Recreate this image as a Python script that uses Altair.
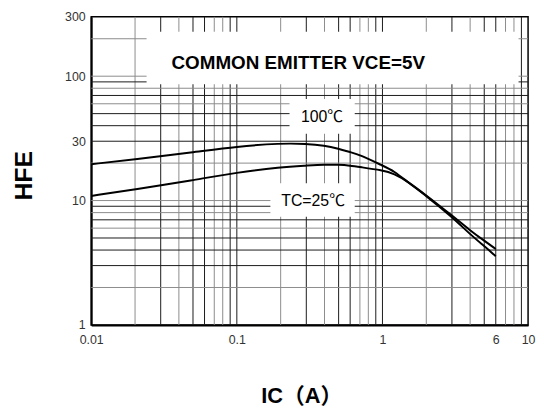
import math
import altair as alt
import pandas as pd

# ---- data ----
IC_100 = [0.01, 0.02, 0.05, 0.1, 0.2, 0.3, 0.4, 0.5, 0.6, 0.7, 1.0, 1.2, 1.5, 2, 3, 4, 5, 6]
HFE_100 = [19.6, 21.5, 24.4, 27.2, 28.9, 28.6, 27.7, 26.1, 24.5, 23.3, 19.1, 17.3, 14.0, 10.9, 7.4, 5.35, 4.3, 3.57]
IC_25 = [0.01, 0.02, 0.05, 0.1, 0.2, 0.3, 0.4, 0.5, 0.6, 0.7, 1.0, 1.2, 1.5, 2, 3, 4, 5, 6]
HFE_25 = [10.9, 12.3, 14.6, 16.8, 18.6, 19.1, 19.5, 19.4, 19.1, 18.6, 17.5, 16.5, 14.2, 11.0, 7.6, 5.75, 4.75, 4.08]

X_TICKS = [0.01, 0.1, 1, 6, 10]
Y_TICKS = [1, 10, 30, 100, 300]
X_GRID = [0.02, 0.03, 0.04, 0.05, 0.06, 0.07, 0.08, 0.09, 0.1,
          0.2, 0.3, 0.4, 0.5, 0.6, 0.7, 0.8, 0.9, 1,
          2, 3, 4, 5, 6, 7, 8, 9]
Y_GRID = [2, 3, 4, 5, 6, 7, 8, 9, 10,
          20, 30, 40, 50, 60, 70, 80, 90, 100, 200]

TITLE_TEXT = ["COMMON EMITTER VCE=5V"]
TITLE_IC = [0.264]
TITLE_HFE = [128]
LABELS = ["100℃", "TC=25℃"]
LABEL_IC = [0.385, 0.334]
LABEL_HFE = [46.7, 9.9]

BOX_IC1 = [0.024, 0.23, 0.17]
BOX_IC2 = [8.6, 0.645, 0.645]
BOX_HFE1 = [86, 34.4, 7.4]
BOX_HFE2 = [228, 65.7, 13.8]

FONT = "Liberation Sans, Arial, Noto Sans CJK SC"
BLACK = "#1a1a1a"
GRAY = "#8c8c8c"


def mantissa(v):
    return round(v / 10 ** math.floor(math.log10(v) + 1e-9))


xg = pd.DataFrame({"v": X_GRID})
xg["c"] = [GRAY if mantissa(v) in (2, 4, 7, 8) else BLACK for v in X_GRID]
yg = pd.DataFrame({"v": Y_GRID})
yg["c"] = [GRAY if mantissa(v) in (1, 2, 6, 8) else BLACK for v in Y_GRID]

curves = pd.concat([
    pd.DataFrame({"ic": IC_100, "hfe": HFE_100, "s": "100"}),
    pd.DataFrame({"ic": IC_25, "hfe": HFE_25, "s": "25"}),
])
boxes = pd.DataFrame({"x1": BOX_IC1, "x2": BOX_IC2, "y1": BOX_HFE1, "y2": BOX_HFE2})
title_df = pd.DataFrame({"t": TITLE_TEXT, "ic": TITLE_IC, "hfe": TITLE_HFE})
labels = pd.DataFrame({"t": LABELS, "ic": LABEL_IC, "hfe": LABEL_HFE})

xscale = alt.Scale(type="log", domain=[0.01, 10], nice=False)
yscale = alt.Scale(type="log", domain=[1, 300], nice=False)

xaxis = alt.Axis(values=X_TICKS, format="~g", grid=False, ticks=False,
                 domainColor="black", domainWidth=2, labelFlush=False,
                 labelOverlap=False, labelFont=FONT, labelFontSize=12.5,
                 labelColor="#333", labelPadding=9,
                 title="IC（A）", titleFont=FONT, titleFontSize=22,
                 titleFontWeight="bold", titleColor="black",
                 titleX=212, titleY=71, titleBaseline="middle",
                 titleAlign="center")
yaxis = alt.Axis(values=Y_TICKS, format="~g", grid=False, ticks=False,
                 domainColor="black", domainWidth=2,
                 labelFont=FONT, labelFontSize=12.5, labelColor="#333",
                 labelPadding=6,
                 title="HFE", titleFont=FONT, titleFontSize=25,
                 titleFontWeight="bold", titleColor="black",
                 titleX=-68, titleY=160, titleBaseline="middle",
                 titleAlign="center")


def X(field):
    return alt.X(field, scale=xscale, axis=xaxis)


def Y(field):
    return alt.Y(field, scale=yscale, axis=yaxis)


xgrid = alt.Chart(xg).mark_rule(strokeWidth=1).encode(
    x=X("v:Q"),
    color=alt.Color("c:N", scale=None),
)
ygrid = alt.Chart(yg).mark_rule(strokeWidth=1).encode(
    y=Y("v:Q"),
    color=alt.Color("c:N", scale=None),
)
rects = alt.Chart(boxes).mark_rect(color="white", opacity=1).encode(
    x=X("x1:Q"), x2="x2:Q",
    y=Y("y1:Q"), y2="y2:Q",
)
lines = alt.Chart(curves).mark_line(color="black", strokeWidth=2,
                                    interpolate="basis").encode(
    x=X("ic:Q"), y=Y("hfe:Q"), detail="s:N",
)
title_text = alt.Chart(title_df).mark_text(font=FONT, color="black", align="center",
                                           baseline="middle", fontSize=19,
                                           fontWeight="bold").encode(
    x=X("ic:Q"), y=Y("hfe:Q"), text="t:N",
)
label_text = alt.Chart(labels).mark_text(font=FONT, color="black", align="center",
                                         baseline="middle", fontSize=16).encode(
    x=X("ic:Q"), y=Y("hfe:Q"), text="t:N",
)

chart = alt.layer(xgrid, ygrid, rects, lines, title_text, label_text).properties(
    width=441, height=311,
    autosize=alt.AutoSizeParams(type="none"),
    padding={"left": 84, "top": 7, "right": 8, "bottom": 90},
    background="white",
).configure_view(stroke="black", strokeWidth=1.5)

chart.save("out.html", embed_options={"renderer": "svg", "actions": False})
